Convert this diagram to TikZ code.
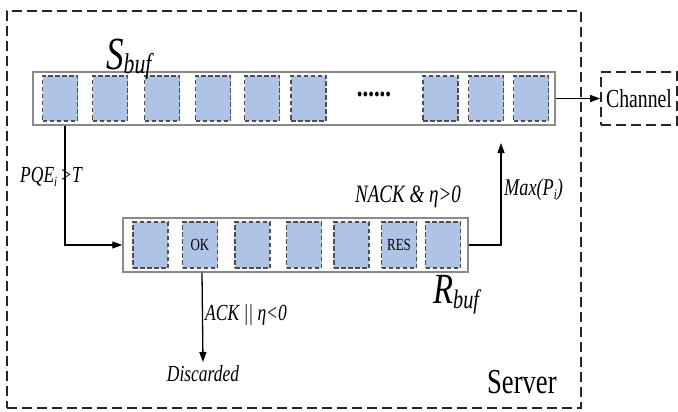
\documentclass[tikz,border=0pt]{standalone}
\usepackage{fontspec}
\usepackage{graphicx}
\setmainfont{Liberation Serif}
\usetikzlibrary{arrows.meta}
\definecolor{cellblue}{HTML}{AFC3E6}
\definecolor{cellborder}{HTML}{4E4E4E}
\definecolor{barborder}{HTML}{8A8A8A}
\newcommand{\nw}[1]{\scalebox{0.76}[1]{#1}}
\newcommand{\lowsub}[2]{\raisebox{#1}{\scalebox{0.62}{#2}}}
\begin{document}
\begin{tikzpicture}[x=1pt,y=-1pt,
  cell/.style={draw=cellborder, dash pattern=on 4.5pt off 2.5pt, line width=1.1pt,
    fill=cellblue, minimum width=35pt, minimum height=45pt, inner sep=0pt,
    font=\fontsize{17}{17}\selectfont},
  bar/.style={draw=barborder, line width=1.4pt, fill=white, inner sep=0pt},
  bigbox/.style={draw=black!85, dash pattern=on 10pt off 5pt, line width=1.7pt, inner sep=0pt},
  conn/.style={line width=1.3pt, -{Triangle[length=10pt,width=7pt]}},
  lab/.style={font=\fontsize{23}{23}\selectfont\itshape, inner sep=0pt}
]
\useasboundingbox (0,0) rectangle (678,412);
\clip (0,0) rectangle (678,412);

% server and channel boxes
\node[bigbox, minimum width=574pt, minimum height=397pt] (server) at (294,209.5) {};
\node[bigbox, minimum width=76pt, minimum height=53pt, font=\fontsize{26}{26}\selectfont] (chan) at (639,98.5) {\nw{Channel}};

% S buffer
\node[bar, minimum width=522pt, minimum height=53pt] (sbar) at (294,98.5) {};
\node[cell] (s1) at (60,98.5) {};
\node[cell] (s2) at (110,98.5) {};
\node[cell] (s3) at (162,98.5) {};
\node[cell] (s4) at (213,98.5) {};
\node[cell] (s5) at (262,98.5) {};
\node[cell] (s6) at (308.5,98.5) {};
\node[inner sep=0pt, font=\fontsize{30}{30}\selectfont\bfseries] (sdots) at (374,94) {\nw{......}};
\node[cell] (s7) at (440.5,98.5) {};
\node[cell] (s8) at (486,98.5) {};
\node[cell] (s9) at (531,98.5) {};

% R buffer
\node[bar, minimum width=345pt, minimum height=54pt] (rbar) at (295.5,245) {};
\node[cell, minimum height=46pt] (r1) at (150.5,245) {};
\node[cell, minimum height=46pt] (r2) at (200,245) {\nw{OK}};
\node[cell, minimum height=46pt] (r3) at (252.5,245) {};
\node[cell, minimum height=46pt] (r4) at (304,245) {};
\node[cell, minimum height=46pt] (r5) at (351.5,245) {};
\node[cell, minimum height=46pt] (r6) at (399,245) {\nw{RES}};
\node[cell, minimum height=46pt] (r7) at (443,245) {};

% labels
\node[inner sep=0pt, anchor=base west, font=\fontsize{46}{46}\selectfont\itshape] (slab) at (106,70) {\nw{S\lowsub{-0.07em}{buf}}};
\node[inner sep=0pt, anchor=base west, font=\fontsize{43}{43}\selectfont\itshape] (rlab) at (433,303) {\nw{R\lowsub{-0.12em}{buf}}};
\node[lab, anchor=base west] (pqe) at (20,182) {\nw{PQE\lowsub{-0.2em}{i}\hspace{4pt}>T}};
\node[lab, anchor=base west, font=\fontsize{25}{25}\selectfont\itshape] (nack) at (355,202) {\nw{NACK \& η>0}};
\node[lab, anchor=base west, font=\fontsize{24}{24}\selectfont\itshape] (maxp) at (504,195) {\nw{Max(P\lowsub{-0.2em}{i})}};
\node[lab, anchor=base west] (ack) at (205,320) {\nw{ACK || η<0}};
\node[lab, anchor=north, inner ysep=3pt] (disc) at (203,362) {\nw{Discarded}};
\node[inner sep=0pt, anchor=base west, font=\fontsize{35}{35}\selectfont] (srv) at (487,393) {\nw{Server}};

\coordinate (maxtop) at (501,143);

% connectors
\draw[conn] (sbar.east) -- (chan.west);
\draw[conn] ([xshift=5pt]s1.south |- sbar.south) |- (rbar.west);
\draw[conn] (rbar.east) -| (maxtop);
\draw[conn] ([xshift=2pt]r2.south |- rbar.south) -- (disc.north);
\end{tikzpicture}
\end{document}
